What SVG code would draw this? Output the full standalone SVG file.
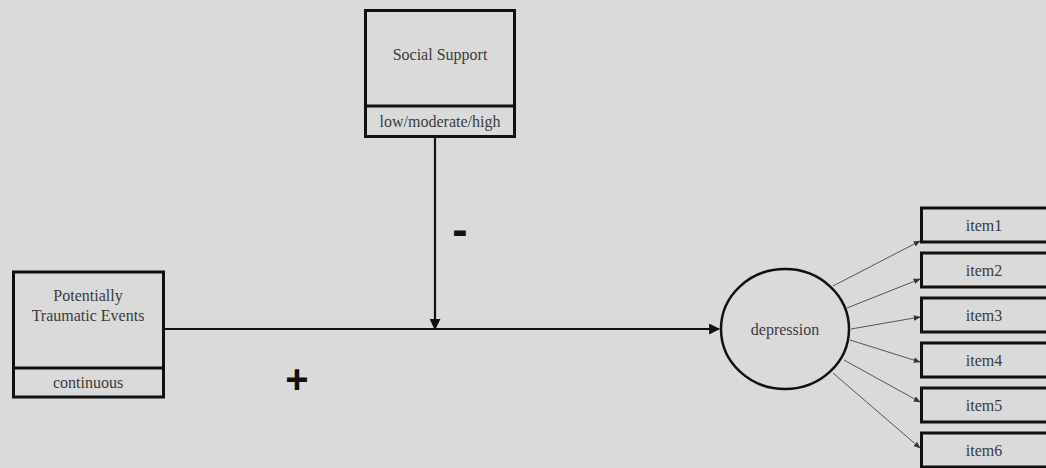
<svg xmlns="http://www.w3.org/2000/svg" width="1046" height="468" viewBox="0 0 1046 468">
  <style>
    .box { fill: none; stroke: #111; stroke-width: 3; }
    .div { stroke: #111; stroke-width: 3; }
    .lbl { font-family: 'Liberation Serif', 'Times New Roman', Tinos, 'DejaVu Serif', serif; font-size: 16px; fill: #3a3a3a; text-anchor: middle; }
    .sign { font-family: 'Liberation Sans', Arial, sans-serif; font-weight: bold; fill: #111; text-anchor: middle; }
    .path { stroke: #111; stroke-width: 2.2; fill: none; }
    .load { stroke: #555; stroke-width: 1; fill: none; }
  </style>
  <defs>
    <marker id="headBold" viewBox="0 0 10 10" refX="9" refY="5" markerWidth="5" markerHeight="5" markerUnits="strokeWidth" orient="auto">
      <path d="M0,0 L10,5 L0,10 z" fill="#111"/>
    </marker>
    <marker id="headThin" viewBox="0 0 10 10" refX="9" refY="5" markerWidth="7" markerHeight="7" markerUnits="strokeWidth" orient="auto">
      <path d="M0,1 L10,5 L0,9 z" fill="#333"/>
    </marker>
  </defs>

  <rect width="1046" height="468" fill="#dadada"/>

  <g id="connectors">
    <line class="path" x1="164" y1="329" x2="719" y2="329" marker-end="url(#headBold)"/>
    <line class="path" x1="435" y1="138" x2="435" y2="329" marker-end="url(#headBold)"/>
    <line class="load" x1="833" y1="286" x2="920" y2="241" marker-end="url(#headThin)"/>
    <line class="load" x1="847" y1="308" x2="920" y2="279" marker-end="url(#headThin)"/>
    <line class="load" x1="851" y1="329" x2="920" y2="317" marker-end="url(#headThin)"/>
    <line class="load" x1="850" y1="340" x2="920" y2="362" marker-end="url(#headThin)"/>
    <line class="load" x1="844" y1="360" x2="920" y2="402" marker-end="url(#headThin)"/>
    <line class="load" x1="833" y1="373" x2="920" y2="448" marker-end="url(#headThin)"/>
  </g>

  <g id="social-support">
    <rect class="box" x="365.5" y="10.5" width="149" height="126"/>
    <line class="div" x1="365.5" y1="106" x2="514.5" y2="106"/>
    <text class="lbl" x="440" y="60">Social Support</text>
    <text class="lbl" x="440" y="127">low/moderate/high</text>
  </g>

  <g id="traumatic-events">
    <rect class="box" x="13.5" y="272" width="150" height="125"/>
    <line class="div" x1="13.5" y1="368" x2="163.5" y2="368"/>
    <text class="lbl" x="88" y="301">Potentially</text>
    <text class="lbl" x="88" y="321">Traumatic Events</text>
    <text class="lbl" x="88" y="388">continuous</text>
  </g>

  <g id="depression">
    <ellipse cx="785" cy="329" rx="64" ry="60" fill="none" stroke="#111" stroke-width="2.5"/>
    <text class="lbl" x="785" y="335">depression</text>
  </g>

  <g id="item1"><rect class="box" x="921.5" y="208" width="140" height="34"/><text class="lbl" x="984" y="231">item1</text></g>
  <g id="item2"><rect class="box" x="921.5" y="253" width="140" height="34"/><text class="lbl" x="984" y="276">item2</text></g>
  <g id="item3"><rect class="box" x="921.5" y="298" width="140" height="34"/><text class="lbl" x="984" y="321">item3</text></g>
  <g id="item4"><rect class="box" x="921.5" y="343" width="140" height="34"/><text class="lbl" x="984" y="366">item4</text></g>
  <g id="item5"><rect class="box" x="921.5" y="388" width="140" height="34"/><text class="lbl" x="984" y="411">item5</text></g>
  <g id="item6"><rect class="box" x="921.5" y="433" width="140" height="34"/><text class="lbl" x="984" y="456">item6</text></g>

  <g id="signs">
    <text class="sign" x="460" y="245" font-size="46">-</text>
    <text class="sign" x="297" y="393" font-size="40">+</text>
  </g>
</svg>
